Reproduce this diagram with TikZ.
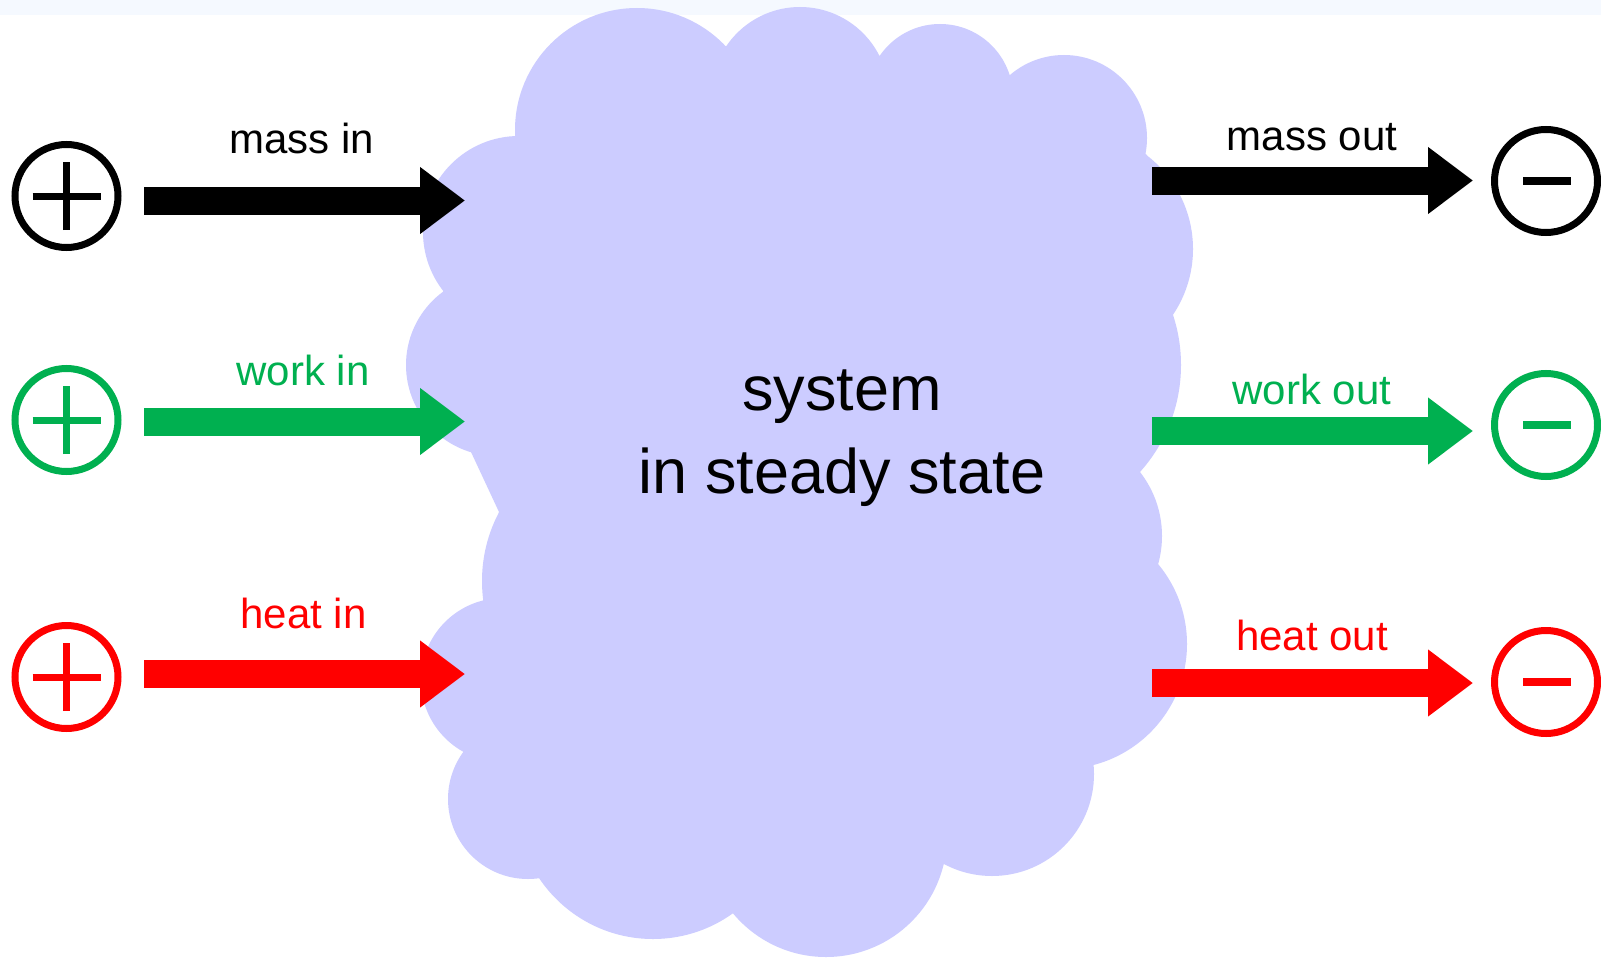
\documentclass[tikz,border=0pt]{standalone}
\usepackage{fontspec}
\setmainfont{Liberation Sans}
\usetikzlibrary{arrows.meta}
\definecolor{cloudfill}{RGB}{204,204,255}
\definecolor{workgreen}{RGB}{0,176,80}
\definecolor{heatred}{RGB}{255,0,0}
\definecolor{topstrip}{RGB}{245,249,255}

\begin{document}
\begin{tikzpicture}[x=1pt,y=-1pt,
  pmsign/.style={circle, draw=#1, line width=7pt, minimum size=103pt, inner sep=0pt},
  signbar/.style={line width=7pt},
  flowarrow/.style={draw=#1, line width=28pt, -{Triangle[length=45pt,width=64pt,fill=#1]}},
  lbl/.style={anchor=base, inner sep=0pt, text=#1, font=\fontsize{42}{50}\selectfont},
]
\useasboundingbox (0,0) rectangle (1601,958);
\fill[white] (0,0) rectangle (1601,958);
\fill[topstrip] (0,0) rectangle (1601,15);

% the system: a cloud made of overlapping lobes
\fill[cloudfill] (516,137) -- (725,46) -- (879,57) -- (1010,75) -- (1147,155)
  -- (1173,315) -- (1140,472) -- (1158,565) -- (1094,764) -- (944,864)
  -- (733,913) -- (539,878) -- (463,753) -- (484,605) -- (499,512)
  -- (471,452) -- (443,291) -- cycle;
\fill[cloudfill]
  (637,130) circle[radius=122pt]
  (800,96) circle[radius=89pt]
  (940,97) circle[radius=73pt]
  (1064,138) circle[radius=83pt]
  (1075,249) circle[radius=118pt]
  (1021,365) circle[radius=160pt]
  (1058,536) circle[radius=104pt]
  (1062,644) circle[radius=125pt]
  (992,774) circle[radius=102pt]
  (826,836) circle[radius=121pt]
  (653,802) circle[radius=137pt]
  (528,799) circle[radius=80pt]
  (503,680) circle[radius=82pt]
  (629,581) circle[radius=147pt]
  (497,365) circle[radius=91pt]
  (519,232) circle[radius=96pt];

% the base anchor of this two-line node sits on the second line
\node[align=center, anchor=base, inner sep=0pt, font=\fontsize{63}{83}\selectfont]
  (sys) at (842,493) {system\\in steady state};

% sources (+) on the left
\node[pmsign=black] (pm) at (66.5,196) {};
\node[pmsign=workgreen] (pw) at (66.5,420) {};
\node[pmsign=heatred] (ph) at (66.5,677) {};
\foreach \n/\c in {pm/black, pw/workgreen, ph/heatred}{
  \draw[signbar, \c] ([xshift=-34pt]\n.center) -- ([xshift=34pt]\n.center);
  \draw[signbar, \c] ([yshift=-34pt]\n.center) -- ([yshift=34pt]\n.center);
}

% sinks (-) on the right
\node[pmsign=black] (mm) at (1546,181) {};
\node[pmsign=workgreen] (mw) at (1546,425) {};
\node[pmsign=heatred] (mh) at (1546,682) {};
\foreach \n/\c in {mm/black, mw/workgreen, mh/heatred}{
  \draw[\c, line width=8pt] ([xshift=-23pt]\n.center) -- ([xshift=25pt]\n.center);
}

% arrow ends
\coordinate (mi-s) at (144,200.5);  \coordinate (mi-e) at (465,200.5);
\coordinate (wi-s) at (144,421.5);  \coordinate (wi-e) at (465,421.5);
\coordinate (hi-s) at (144,674);    \coordinate (hi-e) at (465,674);
\coordinate (mo-s) at (1152,180.5); \coordinate (mo-e) at (1473,180.5);
\coordinate (wo-s) at (1152,431);   \coordinate (wo-e) at (1473,431);
\coordinate (ho-s) at (1152,683);   \coordinate (ho-e) at (1473,683);

\draw[flowarrow=black] (mi-s) -- (mi-e);
\draw[flowarrow=workgreen] (wi-s) -- (wi-e);
\draw[flowarrow=heatred] (hi-s) -- (hi-e);
\draw[flowarrow=black] (mo-s) -- (mo-e);
\draw[flowarrow=workgreen] (wo-s) -- (wo-e);
\draw[flowarrow=heatred] (ho-s) -- (ho-e);

% labels
\node[lbl=black] (l-mi) at (302,153) {mass in};
\node[lbl=workgreen] (l-wi) at (303,385) {work in};
\node[lbl=heatred] (l-hi) at (303.5,628) {heat in};
\node[lbl=black] (l-mo) at (1312,150) {mass out};
\node[lbl=workgreen] (l-wo) at (1312,404) {work out};
\node[lbl=heatred] (l-ho) at (1312,650) {heat out};
\end{tikzpicture}
\end{document}
